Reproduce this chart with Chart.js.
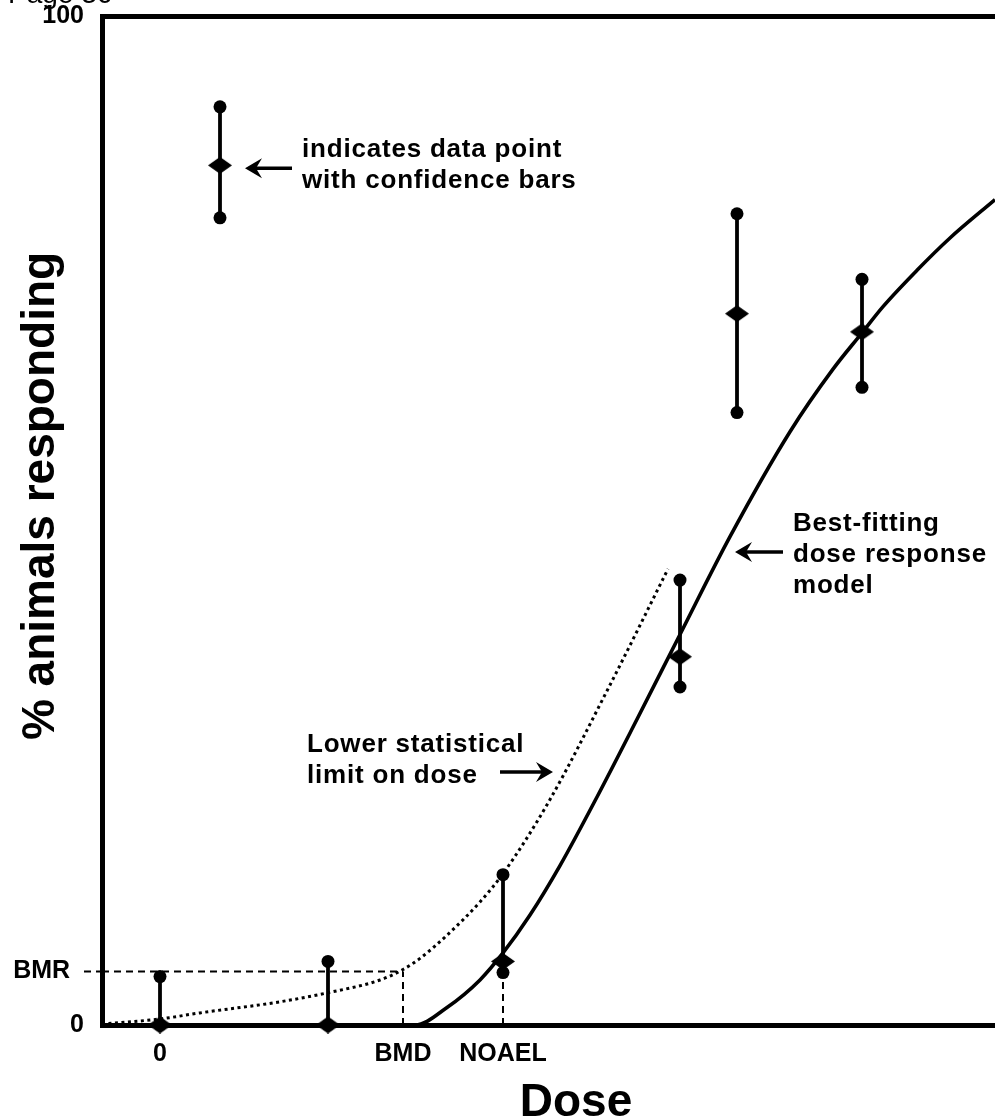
<!DOCTYPE html>
<html>
<head>
<meta charset="utf-8">
<title>Dose response</title>
<script src="https://cdn.jsdelivr.net/npm/chart.js@4"></script>
<style>
  html, body { margin: 0; padding: 0; background: #fff; }
  canvas { display: block; }
</style>
</head>
<body>
<canvas id="doseChart" width="995" height="1119"></canvas>
<script>
// --- Data (dose in arbitrary units, response in %) ---
const doses     = [0, 1.68, 3.43, 5.2, 5.77, 7.02];
const responses = [0, 0, 6.3, 36.5, 70.5, 68.7];
const lowerCI   = [0, 0, 5.2, 33.5, 60.7, 63.2];
const upperCI   = [4.8, 6.3, 14.9, 44.1, 80.4, 73.9];

// sample point used as a key in the top left corner
const sampleDose = [0.6];
const sampleResp = [85.2];
const sampleLow  = [80.0];
const sampleHigh = [91.0];

// best-fitting model
const fitDose = [-0.58, 2.55, 2.87, 3.2, 3.43, 3.7, 4.0, 4.37, 4.77, 5.2, 5.7, 6.3, 6.73, 7.02, 7.23, 7.57, 7.9, 8.35];
const fitResp = [0, 0, 1.74, 4.47, 7.14, 10.9, 15.8, 22.6, 30.3, 38.7, 48.4, 58.8, 65.0, 68.6, 71.2, 74.8, 78.0, 81.8];

// lower statistical limit on dose
const limitDose = [-0.58, 0, 0.4, 1.2, 1.68, 2.2, 2.43, 2.6, 2.87, 3.2, 3.43, 3.88, 4.5, 5.08];
const limitResp = [0.1, 0.6, 1.2, 2.3, 3.2, 4.46, 5.5, 6.6, 8.9, 12.2, 15.0, 22.0, 33.7, 45.2];

const BMR = 5.3;
const BMD = 2.43;
const NOAEL = 3.43;

const X_MIN = -0.58;
const X_MAX = 8.35;

const xTickValues = [0, BMD, NOAEL];
const xTickLabels = ['0', 'BMD', 'NOAEL'];
const yTickValues = [0, BMR, 100];
const yTickLabels = ['0', 'BMR  ', '100'];

// --- Annotations ---
const FONT = '"Liberation Sans", Arial, Helvetica, sans-serif';
const notes = [
  { x: 1.42, y: 86.0, lines: ['indicates data point', 'with confidence bars'] },
  { x: 1.47, y: 27.06, lines: ['Lower statistical', 'limit on dose'] },
  { x: 6.33, y: 48.96, lines: ['Best-fitting', 'dose response', 'model'] }
];
const arrows = [
  { from: [1.32, 84.9], to: [0.85, 84.9] },
  { from: [3.40, 25.07], to: [3.93, 25.07] },
  { from: [6.23, 46.88], to: [5.75, 46.88] }
];

function toPoints(xs, ys) {
  return xs.map((x, i) => ({ x, y: ys[i] }));
}

function diamondImage(w, h) {
  const c = document.createElement('canvas');
  c.width = w;
  c.height = h;
  const g = c.getContext('2d');
  g.fillStyle = '#000';
  g.beginPath();
  g.moveTo(w / 2, 0);
  g.lineTo(w, h / 2);
  g.lineTo(w / 2, h);
  g.lineTo(0, h / 2);
  g.closePath();
  g.fill();
  return c;
}
const diamond = diamondImage(24, 17);

function errorBar(x, lo, hi) {
  return {
    data: [{ x, y: lo }, { x, y: hi }],
    showLine: true,
    borderColor: '#000',
    borderWidth: 3.8,
    pointRadius: 6.5,
    pointBackgroundColor: '#000',
    pointBorderWidth: 0,
    clip: false
  };
}

function refLine(points) {
  return {
    data: points,
    showLine: true,
    borderColor: '#000',
    borderWidth: 2,
    borderDash: [7, 5],
    pointRadius: 0,
    clip: false
  };
}

const datasets = [];

// data points with confidence bars
doses.forEach((d, i) => datasets.push(errorBar(d, lowerCI[i], upperCI[i])));
sampleDose.forEach((d, i) => datasets.push(errorBar(d, sampleLow[i], sampleHigh[i])));
datasets.push({
  data: toPoints(doses.concat(sampleDose), responses.concat(sampleResp)),
  pointStyle: diamond,
  pointRadius: 8,
  clip: false
});

// curves
datasets.push({
  data: toPoints(fitDose, fitResp),
  showLine: true,
  cubicInterpolationMode: 'monotone',
  borderColor: '#000',
  borderWidth: 3.6,
  pointRadius: 0,
  clip: false
});
datasets.push({
  data: toPoints(limitDose, limitResp),
  showLine: true,
  cubicInterpolationMode: 'monotone',
  borderColor: '#000',
  borderWidth: 3,
  borderDash: [3, 3.5],
  pointRadius: 0,
  clip: false
});

// BMR / BMD / NOAEL guides
datasets.push(refLine([{ x: X_MIN, y: BMR }, { x: BMD, y: BMR }]));
datasets.push(refLine([{ x: BMD, y: 0 }, { x: BMD, y: BMR }]));
datasets.push(refLine([{ x: NOAEL, y: 0 }, { x: NOAEL, y: lowerCI[doses.indexOf(NOAEL)] }]));

function drawArrow(ctx, x1, y1, x2, y2) {
  const a = Math.atan2(y2 - y1, x2 - x1);
  const ux = Math.cos(a), uy = Math.sin(a);
  ctx.save();
  ctx.strokeStyle = '#000';
  ctx.fillStyle = '#000';
  ctx.lineWidth = 3.5;
  ctx.beginPath();
  ctx.moveTo(x1, y1);
  ctx.lineTo(x2 - ux * 10, y2 - uy * 10);
  ctx.stroke();
  ctx.beginPath();
  ctx.moveTo(x2, y2);
  ctx.lineTo(x2 - ux * 17 - uy * 10, y2 - uy * 17 + ux * 10);
  ctx.lineTo(x2 - ux * 11, y2 - uy * 11);
  ctx.lineTo(x2 - ux * 17 + uy * 10, y2 - uy * 17 - ux * 10);
  ctx.closePath();
  ctx.fill();
  ctx.restore();
}

const annotationPlugin = {
  id: 'annotations',
  afterDraw(chart) {
    const { ctx, scales: { x, y } } = chart;
    ctx.save();
    ctx.fillStyle = '#000';

    // notes
    ctx.font = 'bold 26px ' + FONT;
    ctx.letterSpacing = '0.8px';
    ctx.textAlign = 'left';
    ctx.textBaseline = 'alphabetic';
    notes.forEach(n => {
      const px = x.getPixelForValue(n.x);
      const py = y.getPixelForValue(n.y);
      n.lines.forEach((line, i) => ctx.fillText(line, px, py + i * 31));
    });
    arrows.forEach(a => drawArrow(ctx,
      x.getPixelForValue(a.from[0]), y.getPixelForValue(a.from[1]),
      x.getPixelForValue(a.to[0]), y.getPixelForValue(a.to[1])));

    // axis titles
    ctx.letterSpacing = '0px';
    ctx.font = 'bold 46px ' + FONT;
    ctx.textAlign = 'center';
    ctx.fillText('Dose', 576, 1116);

    ctx.save();
    ctx.translate(54, 496);
    ctx.rotate(-Math.PI / 2);
    ctx.font = 'bold 46px ' + FONT;
    ctx.fillText('% animals responding', 0, 0);
    ctx.restore();

    // page header, cut by the top edge
    ctx.font = '28px ' + FONT;
    ctx.textAlign = 'left';
    ctx.fillText('Page 36', 8, 3);
    ctx.restore();
  }
};

function noPadding(s) {
  s.paddingLeft = 0;
  s.paddingRight = 0;
  s.paddingTop = 0;
  s.paddingBottom = 0;
}

new Chart(document.getElementById('doseChart'), {
  type: 'scatter',
  data: { datasets },
  options: {
    responsive: false,
    animation: false,
    events: [],
    layout: { padding: 0, autoPadding: false },
    plugins: { legend: { display: false }, tooltip: { enabled: false } },
    scales: {
      x: {
        type: 'linear',
        position: 'bottom',
        min: X_MIN,
        max: X_MAX,
        afterBuildTicks: s => { s.ticks = xTickValues.map(v => ({ value: v })); },
        afterFit: s => { s.height = 94; noPadding(s); },
        ticks: {
          autoSkip: false,
          maxRotation: 0,
          padding: 14,
          color: '#000',
          font: { family: FONT, size: 25, weight: 'bold' },
          callback: (v, i) => xTickLabels[i]
        },
        grid: { display: false, drawTicks: false },
        border: { display: true, color: '#000', width: 5 }
      },
      xTop: {
        type: 'linear',
        position: 'top',
        display: true,
        min: X_MIN,
        max: X_MAX,
        afterFit: s => { s.height = 16; noPadding(s); },
        ticks: { display: false },
        grid: { display: false, drawTicks: false },
        border: { display: true, color: '#000', width: 5 }
      },
      y: {
        type: 'linear',
        min: 0,
        max: 100,
        afterBuildTicks: s => { s.ticks = yTickValues.map(v => ({ value: v })); },
        afterFit: s => { s.width = 102; noPadding(s); },
        ticks: {
          autoSkip: false,
          padding: 0,
          color: '#000',
          font: { family: FONT, size: 25, weight: 'bold' },
          callback: (v, i) => yTickLabels[i]
        },
        grid: {
          display: true,
          drawOnChartArea: false,
          drawTicks: true,
          tickLength: 18,
          tickWidth: 2,
          tickBorderDash: [7, 5],
          tickColor: c => (c.tick && c.tick.value === BMR ? '#000' : 'rgba(0,0,0,0)')
        },
        border: { display: true, color: '#000', width: 5 }
      }
    }
  },
  plugins: [annotationPlugin]
});
</script>
</body>
</html>
